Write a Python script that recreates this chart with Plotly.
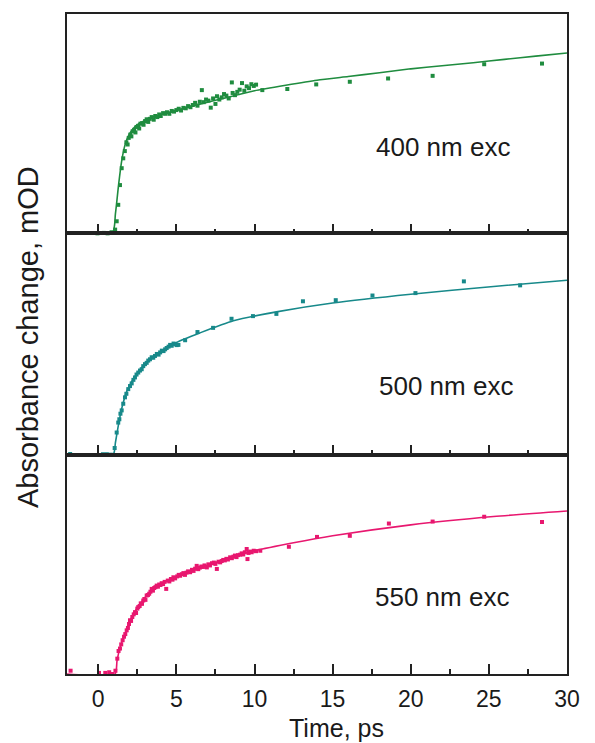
import plotly.graph_objects as go

# ---------------- data ----------------
# 400 nm excitation
t400 = [-0.05, 0.35, 0.6, 0.85, 1.08, 1.18, 1.28, 1.39, 1.50, 1.60, 1.70, 1.80, 1.88, 1.95, 2.05, 2.12,
        2.2, 2.3, 2.38, 2.45, 2.55, 2.62, 2.7, 2.8, 2.9, 3.0, 3.1, 3.2, 3.3, 3.42, 3.55, 3.65, 3.78,
        3.9, 4.0, 4.15, 4.28, 4.4, 4.55, 4.7, 4.85, 5.0, 5.15, 5.3, 5.45, 5.6, 5.75, 5.9, 6.05, 6.2,
        6.35, 6.5, 6.63, 6.75, 6.9, 7.05, 7.2, 7.35, 7.5, 7.6, 7.75, 7.9, 8.05, 8.2, 8.35, 8.55, 8.6,
        8.75, 8.9, 9.05, 9.2, 9.35, 9.5, 9.65, 9.8, 9.95, 10.1,
        10.5, 12.1, 13.95, 16.1, 18.55, 21.4, 24.7, 28.4]
a400 = [0.0, 0.02, 0.0, 0.05, 0.17, 0.55, 1.3, 2.2, 2.97, 3.42, 3.75, 4.15, 4.05, 4.35, 4.5, 4.42,
        4.65, 4.72, 4.6, 4.85, 4.9, 4.78, 5.0, 5.02, 4.95, 5.12, 5.2, 5.08, 5.22, 5.3, 5.18, 5.35, 5.3,
        5.42, 5.35, 5.48, 5.45, 5.52, 5.45, 5.58, 5.55, 5.62, 5.68, 5.6, 5.72, 5.7, 5.8, 5.75, 5.85, 5.95,
        5.82, 6.0, 6.53, 5.98, 6.1, 6.05, 5.73, 6.15, 5.9, 6.25, 6.1, 6.2, 6.35, 6.28, 6.15, 6.88, 6.4,
        6.3, 6.45, 6.55, 6.85, 6.5, 6.7, 6.62, 6.8, 6.72, 6.78,
        6.53, 6.58, 6.79, 6.91, 7.06, 7.18, 7.71, 7.74]
fit400_t = [-2, 0.9, 1.1, 1.3, 1.5, 1.7, 1.9, 2.2, 2.6, 3.0, 3.5, 4.0, 5.0, 6.0, 7.0, 8.0, 9.0, 10,
            12, 14, 16, 18, 20, 22, 24, 26, 28, 30]
fit400_a = [0, 0, 0.9, 2.2, 3.3, 4.0, 4.4, 4.75, 5.0, 5.15, 5.3, 5.42, 5.6, 5.8, 5.98, 6.15, 6.33, 6.5,
            6.75, 6.98, 7.15, 7.32, 7.5, 7.64, 7.78, 7.93, 8.08, 8.22]

# 500 nm excitation
t500 = [-1.8, 0.3, 0.55, 0.8, 1.05, 1.18, 1.28, 1.35, 1.42, 1.5, 1.6, 1.71, 1.8, 1.92, 2.03, 2.14,
        2.25, 2.35, 2.45, 2.56, 2.67, 2.78, 2.88, 2.99, 3.1, 3.2, 3.31, 3.42, 3.52, 3.63, 3.75, 3.86,
        3.96, 4.07, 4.18, 4.28, 4.38, 4.5, 4.6, 4.7, 4.82, 4.92, 5.02, 5.13,
        5.56, 6.35, 7.35, 8.53, 9.9, 11.4, 13.1, 15.2, 17.55, 20.3, 23.4, 27.0]
a500 = [0.03, 0.02, 0.02, 0.0, 0.3, 1.0, 1.45, 1.6, 1.85, 2.0, 2.3, 2.59, 2.75, 2.96, 3.1, 3.22,
        3.38, 3.49, 3.62, 3.71, 3.8, 3.86, 4.0, 4.09, 4.15, 4.25, 4.31, 4.4, 4.38, 4.46, 4.55, 4.52,
        4.62, 4.7, 4.68, 4.76, 4.82, 4.88, 4.96, 4.92, 5.02, 4.99, 4.95, 4.96,
        5.17, 5.54, 5.73, 6.14, 6.26, 6.36, 6.93, 6.98, 7.19, 7.3, 7.83, 7.65]
fit500_t = [-2, 0.95, 1.1, 1.28, 1.49, 1.82, 2.14, 2.46, 3.0, 3.5, 4.0, 5.0, 6.5, 8.65, 11.4, 15,
            20, 25.3, 30]
fit500_a = [0, 0, 0.55, 1.3, 2.05, 2.85, 3.3, 3.65, 4.1, 4.4, 4.65, 5.07, 5.5, 6.05, 6.45, 6.85,
            7.25, 7.6, 7.88]

# 550 nm excitation
t550 = [-1.77, 0.05, 0.45, 0.7, 0.9, 1.1, 1.22, 1.3, 1.39, 1.47, 1.56, 1.65, 1.73, 1.82, 1.9, 1.97,
        2.03, 2.1, 2.18, 2.27, 2.35, 2.42, 2.5, 2.56, 2.65, 2.72, 2.8, 2.88, 2.95, 3.02, 3.1, 3.18,
        3.26, 3.34, 3.42, 3.5, 3.58, 3.66, 3.74, 3.82, 3.9, 3.98, 4.06, 4.15, 4.25, 4.35, 4.45, 4.55,
        4.65, 4.75, 4.81, 4.92, 5.05, 5.15, 5.24, 5.35, 5.45, 5.55, 5.65, 5.75, 5.88, 6.0, 6.1, 6.2,
        6.3, 6.4, 6.5, 6.6, 6.7, 6.8, 6.95, 7.05, 7.15, 7.28, 7.4, 7.5, 7.59, 7.7, 7.8, 7.9, 8.0,
        8.1, 8.2, 8.3, 8.44, 8.55, 8.65, 8.75, 8.85, 8.95, 9.08, 9.18, 9.28, 9.38, 9.5, 9.55, 9.62,
        9.72, 9.82, 9.95, 10.1, 10.37,
        12.2, 14.0, 16.1, 18.6, 21.4, 24.7, 28.4]
a550 = [0.15, 0.05, 0.05, 0.08, 0.0, 0.15, 0.7, 1.05, 1.16, 1.35, 1.54, 1.7, 1.82, 1.99, 2.1, 2.28,
        2.45, 2.42, 2.6, 2.72, 2.82, 2.78, 2.98, 3.05, 3.1, 3.22, 3.2, 3.35, 3.42, 3.38, 3.58, 3.6,
        3.66, 3.75, 3.88, 3.8, 3.92, 3.96, 4.03, 3.98, 4.08, 4.06, 4.14, 4.1, 4.2, 3.88, 4.26, 4.22,
        4.33, 4.3, 4.41, 4.36, 4.45, 4.52, 4.48, 4.55, 4.6, 4.52, 4.62, 4.68, 4.64, 4.75, 4.7, 4.8,
        4.93, 4.78, 4.85, 4.9, 4.88, 4.95, 4.86, 5.0, 4.95, 5.05, 5.08, 5.02, 4.79, 5.12, 5.09, 5.15, 5.2,
        5.18, 5.25, 5.22, 5.32, 5.28, 5.35, 5.4, 5.33, 5.42, 5.44, 5.5, 5.45, 5.55, 5.7, 5.24, 5.52,
        5.58, 5.55, 5.62, 5.6, 5.62,
        5.8, 6.25, 6.3, 6.86, 6.95, 7.17, 6.93]
fit550_t = [-2, 1.07, 1.2, 1.39, 1.56, 1.82, 2.03, 2.35, 2.88, 3.42, 4.06, 4.81, 5.88, 6.95, 8.44,
            9.9, 12.5, 15, 20, 25.3, 30]
fit550_a = [0, 0, 0.6, 1.2, 1.55, 2.0, 2.4, 2.85, 3.38, 3.82, 4.12, 4.38, 4.68, 4.95, 5.32,
            5.6, 5.98, 6.3, 6.8, 7.18, 7.43]

labels = ["400 nm exc", "500 nm exc", "550 nm exc"]
colors = ["#1f8c3f", "#17898a", "#e8176f"]
x_ticks = [0, 5, 10, 15, 20, 25, 30]
x_minor = [2.5, 7.5, 12.5, 17.5, 22.5, 27.5]

# ---------------- figure ----------------
W, H = 595, 743
ML, MR, MT, MB = 67, 28, 12, 69
PH = H - MT - MB
b1 = (232 - MT) / PH
b2 = (454 - MT) / PH
domains = [[1 - b1, 1.0], [1 - b2, 1 - b1], [0.0, 1 - b2]]

series = [(t400, a400, fit400_t, fit400_a),
          (t500, a500, fit500_t, fit500_a),
          (t550, a550, fit550_t, fit550_a)]

fig = go.Figure()
axc = "#222222"
font_family = "Liberation Sans, Arial, sans-serif"

for i, (tx, ay, ft, fa) in enumerate(series):
    xa = "x" if i == 0 else f"x{i+1}"
    ya = "y" if i == 0 else f"y{i+1}"
    fig.add_trace(go.Scatter(x=ft, y=fa, mode="lines", xaxis=xa, yaxis=ya,
                             line=dict(color=colors[i], width=1.6, shape="spline", smoothing=0.6),
                             cliponaxis=False, showlegend=False))
    fig.add_trace(go.Scatter(x=tx, y=ay, mode="markers", xaxis=xa, yaxis=ya,
                             marker=dict(color=colors[i], size=4, symbol="square"),
                             cliponaxis=False, showlegend=False))
    xkey = "xaxis" if i == 0 else f"xaxis{i+1}"
    ykey = "yaxis" if i == 0 else f"yaxis{i+1}"
    fig.layout[xkey] = dict(
        domain=[0, 1], anchor=ya, range=[-2, 30], tickvals=x_ticks,
        ticks="inside", ticklen=10, tickwidth=1.5, tickcolor=axc,
        minor=dict(tickvals=x_minor, ticks="inside",
                   ticklen=5, tickwidth=1.5, tickcolor=axc),
        showline=True, linewidth=1.6, linecolor=axc, mirror=True,
        showgrid=False, zeroline=False, showticklabels=(i == 2),
        tickfont=dict(family=font_family, size=23, color="#1a1a1a"),
        ticklabelstandoff=4,
    )
    fig.layout[ykey] = dict(
        domain=domains[i], anchor=xa, range=[0, 10],
        showline=True, linewidth=1.6, linecolor=axc, mirror=True,
        showgrid=False, zeroline=False, showticklabels=False, ticks="",
    )

ann_pos = [(0.752, 0.799), (0.758, 0.4366), (0.75, 0.1163)]
for (ax_, ay_), lab in zip(ann_pos, labels):
    fig.add_annotation(text=lab, x=ax_, y=ay_, xref="paper", yref="paper",
                       xanchor="center", yanchor="middle", showarrow=False,
                       font=dict(family=font_family, size=26, color="#1a1a1a"))

fig.add_annotation(text="Time, ps", x=(336 - ML) / (W - ML - MR), y=(H - MB - 728) / PH,
                   xref="paper", yref="paper", xanchor="center", yanchor="middle",
                   showarrow=False, font=dict(family=font_family, size=25, color="#1a1a1a"))
fig.add_annotation(text="Absorbance change, mOD", x=(28 - ML) / (W - ML - MR), y=(H - MB - 336) / PH,
                   xref="paper", yref="paper", xanchor="center", yanchor="middle",
                   textangle=-90, showarrow=False,
                   font=dict(family=font_family, size=29, color="#1a1a1a"))

fig.update_layout(width=W, height=H, margin=dict(l=ML, r=MR, t=MT, b=MB),
                  paper_bgcolor="white", plot_bgcolor="white")

fig.write_html("out.html")
